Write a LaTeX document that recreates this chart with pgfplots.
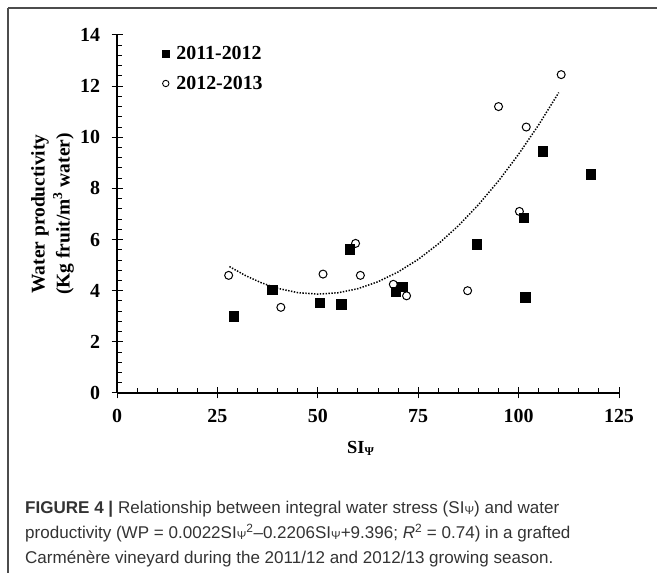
\documentclass[border=0pt]{standalone}
\usepackage{fontspec}
\setmainfont{Liberation Serif}
\newfontfamily\capfont{Liberation Sans}
\usepackage{pgfplots}
\pgfplotsset{compat=1.18}
\begin{document}
\begin{tikzpicture}[x=1bp,y=1bp]
\useasboundingbox (0,0) rectangle (657,579);
\draw[line width=1.4bp, black!70] (8,571) -- (657,571);
\draw[line width=1.4bp, black!70] (8,571) -- (8,6);
\begin{axis}[
  at={(117bp,186bp)}, anchor=south west,
  scale only axis, width=502bp, height=358bp,
  xmin=0, xmax=125, ymin=0, ymax=14,
  axis lines=left, axis line style={-, line width=1.2bp},
  xtick={0,25,...,125}, ytick={0,2,...,14},
  minor x tick num=4, minor y tick num=4,
  tick align=center, major tick length=11bp, minor tick length=5bp,
  tick style={black, line width=1bp},
  minor x tick style={yshift=2.5bp},
  minor y tick style={xshift=2.5bp},
  ticklabel style={font=\fontsize{20}{24}\selectfont\bfseries},
  xticklabel style={yshift=-7bp},
  yticklabel style={xshift=-8bp},
  /pgf/number format/assume math mode=true,
  xlabel={\fontsize{18.5}{20}\selectfont\bfseries SI\raisebox{-2bp}{\fontsize{12}{12}\selectfont Ψ}},
  xlabel style={at={(axis description cs:0.485,-0.1536)}, anchor=center},
  ylabel={Water productivity\\(Kg fruit/m\textsuperscript{3} water)},
  ylabel style={at={(axis description cs:-0.1285,0.5)}, anchor=center, align=center, font=\fontsize{19.5}{25}\selectfont\bfseries},
  legend style={at={(axis cs:11.2,13.64)}, anchor=north west, draw=none, fill=none,
    font=\fontsize{20}{24}\selectfont\bfseries, row sep=11bp, inner sep=0pt,
    /tikz/every odd column/.append style={column sep=5bp}},
  legend cell align=left,
  clip=false,
]
\addlegendimage{only marks, mark=square*, mark size=3.6bp, mark options={draw=black, fill=black}}
\addlegendentry{2011-2012}
\addlegendimage{only marks, mark=*, mark size=3.2bp, mark options={draw=black, fill=white, line width=0.9bp}}
\addlegendentry{2012-2013}
\addplot[black, line width=1.5bp, dash pattern=on 1.4bp off 1.5bp, forget plot] coordinates {
(28,4.944) (32,4.590) (36,4.306) (40,4.092) (45,3.924) (50,3.866) (55,3.918)
(60,4.080) (65,4.352) (70,4.734) (75,5.226) (80,5.828) (85,6.540) (90,7.362)
(95,8.294) (100,9.336) (105,10.488) (110,11.750)};
\addplot[only marks, mark=*, mark size=4bp, mark options={draw=black, fill=white, line width=1bp}, forget plot] coordinates {
(27.8,4.6) (40.8,3.35) (51.3,4.65) (59.4,5.85) (60.6,4.6) (68.8,4.25) (72.1,3.8)
(87.3,4.0) (100.2,7.1) (101.9,10.4) (95,11.2) (110.6,12.45)};
\addplot[only marks, mark=square*, mark size=4.7bp, mark options={draw=black, fill=black}, forget plot] coordinates {
(29,3.0) (38.6,4.05) (50.5,3.52) (55.8,3.48) (58,5.62) (69.4,3.95) (71,4.15)
(89.6,5.82) (101.6,3.75) (101.3,6.85) (106,9.45) (118,8.55)};
\end{axis}
\begin{scope}[every node/.style={anchor=base west, inner sep=0pt, text=black!80, font=\capfont\fontsize{17.1}{20}\selectfont}]
\node at (25,65.7) {\textbf{FIGURE 4 |} Relationship between integral water stress (SI\raisebox{-1bp}{\fontsize{11.5}{11.5}\selectfont Ψ}) and water};
\node at (25,40) {productivity (WP = 0.0022SI\raisebox{-1bp}{\fontsize{11.5}{11.5}\selectfont Ψ}\textsuperscript{2}–0.2206SI\raisebox{-1bp}{\fontsize{11.5}{11.5}\selectfont Ψ}+9.396; \textit{R}\textsuperscript{2} = 0.74) in a grafted};
\node at (25,15) {Carménère vineyard during the 2011/12 and 2012/13 growing season.};
\end{scope}
\end{tikzpicture}
\end{document}
